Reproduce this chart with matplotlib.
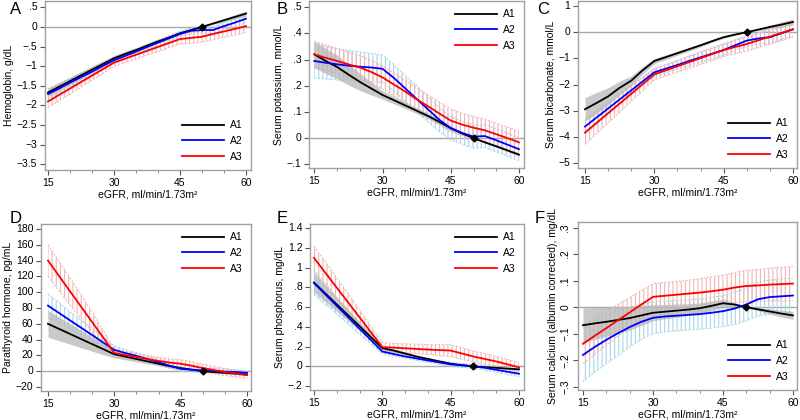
import numpy as np
import matplotlib
matplotlib.use("Agg")
import matplotlib.pyplot as plt

plt.rcParams['font.family'] = ['Liberation Sans', 'DejaVu Sans']
plt.rcParams['hatch.linewidth'] = 0.8

# eGFR grid where the curves were read
egfr = [15, 17.5, 20, 22.5, 25, 27.5, 30, 32.5, 35, 37.5, 40, 42.5, 45, 47.5, 50, 52.5, 55, 57.5, 60]
series = ['A1', 'A2', 'A3']

# A: hemoglobin
hgb_a1 = [-1.67, -1.525, -1.38, -1.235, -1.09, -0.945, -0.80, -0.69, -0.59, -0.48, -0.37, -0.27, -0.16, -0.08, 0.0, 0.085, 0.17, 0.255, 0.34]
hgb_a1_hw = [0.12, 0.11, 0.10, 0.095, 0.09, 0.08, 0.07, 0.065, 0.06, 0.055, 0.05, 0.045, 0.04, 0.02, 0.0, 0.02, 0.04, 0.055, 0.07]
hgb_a2 = [-1.71, -1.57, -1.42, -1.28, -1.14, -0.99, -0.85, -0.74, -0.63, -0.51, -0.40, -0.29, -0.18, -0.10, -0.08, -0.08, 0.02, 0.11, 0.21]
hgb_a2_hw = [0.13, 0.12, 0.11, 0.10, 0.095, 0.09, 0.08, 0.075, 0.07, 0.07, 0.07, 0.07, 0.07, 0.07, 0.08, 0.085, 0.09, 0.095, 0.10]
hgb_a3 = [-1.90, -1.735, -1.57, -1.405, -1.24, -1.075, -0.91, -0.81, -0.71, -0.61, -0.51, -0.41, -0.31, -0.28, -0.25, -0.18, -0.115, -0.05, 0.02]
hgb_a3_hw = [0.16, 0.15, 0.14, 0.13, 0.12, 0.11, 0.10, 0.10, 0.11, 0.11, 0.12, 0.12, 0.13, 0.14, 0.14, 0.15, 0.15, 0.16, 0.16]

# B: potassium
k_a1 = [0.32, 0.295, 0.272, 0.243, 0.215, 0.19, 0.165, 0.145, 0.125, 0.105, 0.085, 0.062, 0.038, 0.018, 0.0, -0.016, -0.031, -0.047, -0.063]
k_a1_hw = [0.05, 0.048, 0.045, 0.04, 0.033, 0.025, 0.016, 0.014, 0.012, 0.011, 0.01, 0.01, 0.01, 0.005, 0.0, 0.003, 0.004, 0.005, 0.006]
k_a2 = [0.295, 0.288, 0.282, 0.277, 0.273, 0.27, 0.265, 0.23, 0.19, 0.15, 0.11, 0.07, 0.038, 0.02, 0.006, 0.008, -0.008, -0.025, -0.042]
k_a2_hw = [0.065, 0.062, 0.06, 0.058, 0.056, 0.054, 0.052, 0.05, 0.05, 0.05, 0.048, 0.046, 0.045, 0.044, 0.044, 0.044, 0.044, 0.044, 0.044]
k_a3 = [0.32, 0.307, 0.295, 0.282, 0.27, 0.253, 0.232, 0.205, 0.178, 0.148, 0.122, 0.094, 0.067, 0.052, 0.04, 0.03, 0.015, 0.0, -0.016]
k_a3_hw = [0.05, 0.049, 0.048, 0.047, 0.046, 0.045, 0.044, 0.044, 0.044, 0.044, 0.044, 0.044, 0.044, 0.043, 0.043, 0.042, 0.042, 0.042, 0.042]

# C: bicarbonate
bic_a1 = [-2.94, -2.70, -2.45, -2.12, -1.85, -1.45, -1.10, -0.95, -0.80, -0.65, -0.50, -0.34, -0.19, -0.09, 0.0, 0.10, 0.20, 0.29, 0.39]
bic_a1_hw = [0.45, 0.40, 0.33, 0.26, 0.18, 0.14, 0.10, 0.09, 0.08, 0.07, 0.06, 0.055, 0.05, 0.025, 0.0, 0.04, 0.07, 0.10, 0.12]
bic_a2 = [-3.60, -3.255, -2.91, -2.565, -2.22, -1.875, -1.53, -1.39, -1.25, -1.10, -0.96, -0.82, -0.68, -0.50, -0.32, -0.24, -0.19, -0.04, 0.11]
bic_a2_hw = [0.30, 0.27, 0.24, 0.21, 0.18, 0.16, 0.15, 0.15, 0.16, 0.17, 0.18, 0.19, 0.20, 0.20, 0.21, 0.22, 0.23, 0.24, 0.25]
bic_a3 = [-3.83, -3.46, -3.09, -2.72, -2.35, -1.98, -1.61, -1.455, -1.30, -1.145, -0.99, -0.835, -0.68, -0.565, -0.45, -0.31, -0.17, -0.03, 0.11]
bic_a3_hw = [0.45, 0.41, 0.37, 0.33, 0.29, 0.25, 0.21, 0.21, 0.22, 0.23, 0.24, 0.245, 0.25, 0.26, 0.27, 0.28, 0.29, 0.30, 0.30]

# D: parathyroid hormone
pth_a1 = [60, 53.6, 47.2, 40.7, 34.3, 27.9, 21.5, 18.5, 15.5, 12.5, 9.5, 6.5, 4, 2, 0, -1, -2, -3, -4]
pth_a1_hw = [17, 15, 13, 11, 9, 7, 4.5, 4, 3.5, 3, 2.5, 2.2, 2, 1, 0, 1, 1.2, 1.4, 1.5]
pth_a2 = [83, 73.7, 64.3, 55, 45.7, 36.3, 27, 23, 19.5, 15.5, 11.5, 7, 3, 2, 1, 0.5, -0.5, -1, -2]
pth_a2_hw = [15, 13, 11, 9.5, 8, 6.5, 5, 4.5, 4, 3.8, 3.5, 3.3, 3, 3, 3, 3, 3, 3, 3]
pth_a3 = [140, 120.5, 101, 81.5, 62, 42.5, 23, 20.5, 18, 15.5, 13, 11, 9.5, 7, 4, 1.5, -1, -3, -5]
pth_a3_hw = [20, 18.5, 17, 15, 12.5, 9, 5, 4.5, 4.5, 4.5, 4.5, 4.7, 5, 5, 5, 4.7, 4.5, 4.2, 4]

# E: phosphorus
phos_a1 = [0.85, 0.739, 0.628, 0.518, 0.407, 0.296, 0.185, 0.16, 0.13, 0.10, 0.075, 0.05, 0.027, 0.013, 0.0, -0.008, -0.015, -0.023, -0.03]
phos_a1_hw = [0.10, 0.085, 0.07, 0.058, 0.045, 0.033, 0.02, 0.018, 0.016, 0.014, 0.012, 0.011, 0.01, 0.005, 0.0, 0.005, 0.007, 0.009, 0.01]
phos_a2 = [0.845, 0.729, 0.613, 0.498, 0.382, 0.266, 0.15, 0.125, 0.10, 0.08, 0.06, 0.04, 0.02, 0.01, 0.0, -0.015, -0.035, -0.055, -0.075]
phos_a2_hw = [0.12, 0.10, 0.085, 0.07, 0.055, 0.04, 0.025, 0.022, 0.02, 0.02, 0.02, 0.02, 0.02, 0.02, 0.022, 0.024, 0.026, 0.028, 0.03]
phos_a3 = [1.10, 0.949, 0.798, 0.648, 0.497, 0.346, 0.195, 0.19, 0.183, 0.177, 0.17, 0.165, 0.16, 0.13, 0.10, 0.075, 0.05, 0.02, -0.01]
phos_a3_hw = [0.12, 0.11, 0.10, 0.09, 0.075, 0.06, 0.045, 0.042, 0.045, 0.048, 0.05, 0.055, 0.06, 0.058, 0.055, 0.053, 0.05, 0.05, 0.05]

# F: calcium
ca_a1 = [-0.068, -0.061, -0.055, -0.048, -0.041, -0.031, -0.021, -0.017, -0.013, -0.009, -0.004, 0.005, 0.015, 0.01, 0.0, -0.008, -0.016, -0.024, -0.031]
ca_a1_hw = [0.065, 0.06, 0.055, 0.05, 0.045, 0.038, 0.03, 0.027, 0.025, 0.022, 0.02, 0.018, 0.015, 0.008, 0.0, 0.006, 0.01, 0.013, 0.015]
ca_a2 = [-0.18, -0.15, -0.123, -0.098, -0.075, -0.055, -0.04, -0.035, -0.032, -0.029, -0.026, -0.021, -0.015, -0.005, 0.01, 0.03, 0.038, 0.041, 0.044]
ca_a2_hw = [0.10, 0.095, 0.09, 0.085, 0.075, 0.067, 0.06, 0.058, 0.057, 0.057, 0.057, 0.058, 0.058, 0.06, 0.062, 0.063, 0.064, 0.065, 0.066]
ca_a3 = [-0.138, -0.108, -0.079, -0.049, -0.02, 0.01, 0.039, 0.043, 0.047, 0.051, 0.055, 0.06, 0.066, 0.074, 0.08, 0.082, 0.085, 0.087, 0.089]
ca_a3_hw = [0.075, 0.07, 0.065, 0.06, 0.056, 0.052, 0.05, 0.05, 0.05, 0.05, 0.052, 0.054, 0.055, 0.057, 0.059, 0.06, 0.062, 0.063, 0.065]

xticks = [15, 30, 45, 60]
xminor = [20, 25, 35, 40, 50, 55]
ref_x = 50
xlabel = 'eGFR, ml/min/1.73m²'

yt_hgb = [0.5, 0, -0.5, -1, -1.5, -2, -2.5, -3, -3.5]
yl_hgb = ['.5', '0', '−.5', '−1', '−1.5', '−2', '−2.5', '−3', '−3.5']
yt_k = [0.5, 0.4, 0.3, 0.2, 0.1, 0, -0.1]
yl_k = ['.5', '.4', '.3', '.2', '.1', '0', '−.1']
yt_bic = [1, 0, -1, -2, -3, -4, -5]
yl_bic = ['1', '0', '−1', '−2', '−3', '−4', '−5']
yt_pth = [180, 160, 140, 120, 100, 80, 60, 40, 20, 0, -20]
yl_pth = ['180', '160', '140', '120', '100', '80', '60', '40', '20', '0', '−20']
yt_phos = [1.4, 1.2, 1, 0.8, 0.6, 0.4, 0.2, 0, -0.2]
yl_phos = ['1.4', '1.2', '1', '.8', '.6', '.4', '.2', '0', '−.2']
yt_ca = [0.3, 0.2, 0.1, 0, -0.1, -0.2, -0.3]
yl_ca = ['.3', '.2', '.1', '0', '−.1', '−.2', '−.3']

panels = [
    # letter, letter pos px, ylabel, lines, halfwidths, yticks, ylabels, rect(px: l, t, r, b), xlim, ylim, legend loc, rotate
    ('A', (10, 10), 'Hemoglobin, g/dL', (hgb_a1, hgb_a2, hgb_a3), (hgb_a1_hw, hgb_a2_hw, hgb_a3_hw),
     yt_hgb, yl_hgb, (45, 1, 251, 170), (14.32, 61.14), (-3.645, 0.66), 'lower right', 0),
    ('B', (277, 10), 'Serum potassium, mmol/L', (k_a1, k_a2, k_a3), (k_a1_hw, k_a2_hw, k_a3_hw),
     yt_k, yl_k, (309, 1, 524, 168), (13.83, 61.1), (-0.114, 0.524), 'upper right', 0),
    ('C', (537, 10), 'Serum bicarbonate, mmol/L', (bic_a1, bic_a2, bic_a3), (bic_a1_hw, bic_a2_hw, bic_a3_hw),
     yt_bic, yl_bic, (578, 1, 797, 168), (13.49, 60.87), (-5.18, 1.19), 'lower right', 0),
    ('D', (10, 218), 'Parathyroid hormone, pg/mL', (pth_a1, pth_a2, pth_a3), (pth_a1_hw, pth_a2_hw, pth_a3_hw),
     yt_pth, yl_pth, (41, 224, 251, 391), (13.42, 60.9), (-25, 186.3), 'upper right', 0),
    ('E', (277, 218), 'Serum phosphorus, mg/dL', (phos_a1, phos_a2, phos_a3), (phos_a1_hw, phos_a2_hw, phos_a3_hw),
     yt_phos, yl_phos, (310, 224, 524, 390), (14.12, 61.1), (-0.24, 1.444), 'upper right', 0),
    ('F', (535, 218), 'Serum calcium (albumin corrected), mg/dL', (ca_a1, ca_a2, ca_a3), (ca_a1_hw, ca_a2_hw, ca_a3_hw),
     yt_ca, yl_ca, (578, 222, 797, 390), (13.93, 60.86), (-0.312, 0.321), 'lower right', 90),
]

W, H = 800, 420
fig = plt.figure(figsize=(W / 100, H / 100), dpi=100)

line_cols = ['black', '#0000ff', '#ff0000']
ci_cols = [None, '#a9d6e8', '#f3b5b5']
frame_col = '#a0a0a0'
fs = 7.5

x = np.array(egfr)
for letter, lpos, ylab, lines, hws, yt, yl, rect, xl, yl_lim, loc, rot in panels:
    l, t, r, b = rect
    ax = fig.add_axes([l / W, 1 - b / H, (r - l) / W, (b - t) / H])
    ax.axhline(0, color='#a8a8a8', lw=1.0, zorder=1)

    for i in (1, 2):
        y = np.array(lines[i])
        hw = np.array(hws[i])
        ax.fill_between(x, y - hw, y + hw, facecolor='none', edgecolor=ci_cols[i],
                        hatch='||||', linewidth=0, zorder=1.2)
        for edge in (y - hw, y + hw):
            ax.plot(x, edge, color=ci_cols[i], lw=0.8, dashes=(1.8, 1.4), zorder=1.2)

    y1 = np.array(lines[0])
    hw1 = np.array(hws[0])
    ax.fill_between(x, y1 - hw1, y1 + hw1, color='#b8b8b8', alpha=0.75, linewidth=0, zorder=1.5)

    for i in range(3):
        ax.plot(x, lines[i], color=line_cols[i], lw=1.3, label=series[i], zorder=3)
    ax.plot([ref_x], [0], marker='D', ms=3.5, color='black', zorder=4)

    ax.set_xlim(*xl)
    ax.set_ylim(*yl_lim)
    ax.set_xticks(xticks)
    ax.set_xticks(xminor, minor=True)
    ax.set_yticks(yt)
    ax.set_yticklabels(yl, rotation=rot, va='center')
    ax.tick_params(axis='both', which='major', labelsize=fs, length=3.5, width=0.8,
                   color='#555555', pad=2)
    ax.tick_params(axis='x', which='minor', length=2, width=0.6, color='#777777')
    for s in ax.spines.values():
        s.set_color(frame_col)
        s.set_linewidth(1.0)
    ax.set_xlabel(xlabel, fontsize=fs, labelpad=1)
    ax.set_ylabel(ylab, fontsize=fs, labelpad=2)
    ax.legend(loc=loc, frameon=False, fontsize=fs, handlelength=4.0, labelspacing=0.55,
              handletextpad=0.6, borderaxespad=0.4)
    fig.text(lpos[0] / W, 1 - lpos[1] / H, letter, fontsize=12, ha='left', va='center')

fig.savefig('out.png', dpi=100)
